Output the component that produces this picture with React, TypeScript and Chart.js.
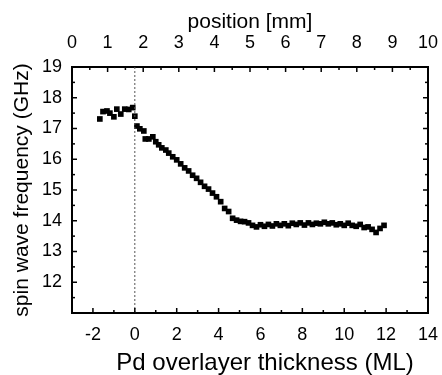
import React, { useEffect, useRef } from "react";
import { Chart, registerables } from "chart.js";

Chart.register(...registerables);

// Pd overlayer thickness (ML)
const thicknessML: number[] = [
  -1.67, -1.52, -1.33, -1.19, -1.0, -0.86, -0.67, -0.48, -0.29, -0.1,
  0.0, 0.1, 0.24, 0.43, 0.5, 0.67, 0.86, 1.0, 1.14, 1.29, 1.48, 1.62,
  1.81, 2.0, 2.19, 2.38, 2.57, 2.76, 2.95, 3.14, 3.33, 3.52, 3.71, 3.9,
  4.1, 4.29, 4.48, 4.67, 4.86, 5.05, 5.24, 5.43, 5.62, 5.81, 6.0, 6.19,
  6.38, 6.57, 6.76, 6.95, 7.14, 7.33, 7.52, 7.71, 7.9, 8.1, 8.29, 8.48,
  8.67, 8.86, 9.05, 9.24, 9.43, 9.62, 9.81, 10.0, 10.19, 10.38, 10.57,
  10.76, 10.95, 11.14, 11.33, 11.52, 11.71, 11.9,
];

// spin wave frequency (GHz)
const frequencyGHz: number[] = [
  17.31, 17.55, 17.57, 17.5, 17.38, 17.63, 17.47, 17.63, 17.62, 17.68,
  17.4, 17.08, 16.99, 16.92, 16.66, 16.66, 16.73, 16.57, 16.47, 16.37, 16.3, 16.2,
  16.08, 15.98, 15.85, 15.72, 15.62, 15.48, 15.38, 15.25, 15.12, 15.03, 14.9, 14.78,
  14.62, 14.4, 14.3, 14.08, 14.02, 13.98, 13.97, 13.93, 13.85, 13.8, 13.87, 13.82,
  13.88, 13.83, 13.9, 13.85, 13.9, 13.84, 13.92, 13.88, 13.93, 13.86, 13.93, 13.88,
  13.92, 13.9, 13.95, 13.9, 13.93, 13.87, 13.9, 13.85, 13.92, 13.85, 13.82,
  13.88, 13.78, 13.8, 13.72, 13.62, 13.75, 13.85,
];

// reference line at zero thickness
const zeroLineX: number[] = [0, 0];
const zeroLineY: number[] = [11, 19];

// axis ranges
const xRange: number[] = [-3, 14];
const yRange: number[] = [11, 19];
const posRange: number[] = [0, 10];

const xTitle = "Pd overlayer thickness (ML)";
const x2Title = "position [mm]";
const yTitle = "spin wave frequency (GHz)";

const FONT = "'Liberation Sans', Arial, Helvetica, sans-serif";

const inwardTicks = {
  id: "inwardTicks",
  afterDraw(chart: any) {
    const ctx = chart.ctx;
    const area = chart.chartArea;
    ctx.save();
    ctx.strokeStyle = "#000";
    ctx.lineWidth = 1.5;
    const major = 5;
    const minor = 3;
    for (const id of Object.keys(chart.scales)) {
      const s = chart.scales[id];
      for (const t of s.ticks) {
        const v = t.value;
        let isMajor: boolean;
        if (id === "x") isMajor = Math.abs(v % 2) < 1e-9;
        else isMajor = Math.abs(v - Math.round(v)) < 1e-9;
        const len = isMajor ? major : minor;
        const p = s.getPixelForValue(v);
        ctx.beginPath();
        if (s.position === "bottom") {
          ctx.moveTo(p, area.bottom);
          ctx.lineTo(p, area.bottom - len);
        } else if (s.position === "top") {
          ctx.moveTo(p, area.top);
          ctx.lineTo(p, area.top + len);
        } else if (s.position === "left") {
          ctx.moveTo(area.left, p);
          ctx.lineTo(area.left + len, p);
        } else {
          ctx.moveTo(area.right, p);
          ctx.lineTo(area.right - len, p);
        }
        ctx.stroke();
      }
    }
    // bottom axis title (sits slightly right of centre in the original)
    ctx.fillStyle = "#000";
    ctx.font = "24px " + FONT;
    ctx.textAlign = "center";
    ctx.textBaseline = "middle";
    ctx.fillText(xTitle, (area.left + area.right) / 2 + 15, area.bottom + 50);
    ctx.restore();
  },
};

export default function App() {
  const ref = useRef<HTMLCanvasElement | null>(null);

  useEffect(() => {
    if (!ref.current) return;
    Chart.defaults.font.family = FONT;
    Chart.defaults.color = "#000";
    const points = thicknessML.map((x, i) => ({ x, y: frequencyGHz[i] }));
    const zero = zeroLineX.map((x, i) => ({ x, y: zeroLineY[i] }));
    const border = { display: true, color: "#000", width: 2 };
    const grid = { display: false, drawTicks: false };
    const tickFont = { size: 18 };
    const noHPad = (s: any) => {
      s.paddingLeft = 0;
      s.paddingRight = 0;
    };
    const chart = new Chart(ref.current, {
      type: "scatter",
      data: {
        datasets: [
          {
            data: zero,
            showLine: true,
            borderColor: "#555",
            borderWidth: 1,
            borderDash: [2, 2],
            pointRadius: 0,
            xAxisID: "x",
            yAxisID: "y",
          },
          {
            data: points,
            showLine: false,
            pointStyle: "rect",
            pointRadius: 4,
            backgroundColor: "#000",
            borderColor: "#000",
            borderWidth: 0,
            xAxisID: "x",
            yAxisID: "y",
          },
        ],
      },
      options: {
        animation: false,
        responsive: false,
        devicePixelRatio: 1,
        layout: { padding: 0 },
        plugins: { legend: { display: false }, tooltip: { enabled: false } },
        scales: {
          x: {
            type: "linear",
            position: "bottom",
            min: xRange[0],
            max: xRange[1],
            border,
            grid,
            ticks: {
              stepSize: 1,
              padding: 11,
              autoSkip: false,
              maxRotation: 0,
              minRotation: 0,
              font: tickFont,
              color: "#000",
              callback: (v: any) => (Math.abs(v % 2) < 1e-9 ? String(v) : ""),
            },
            title: { display: false, text: xTitle },
            afterFit: (s: any) => {
              s.height = 62;
              noHPad(s);
            },
          },
          x2: {
            type: "linear",
            position: "top",
            min: posRange[0],
            max: posRange[1],
            border,
            grid,
            ticks: {
              stepSize: 0.5,
              padding: 13,
              autoSkip: false,
              maxRotation: 0,
              minRotation: 0,
              font: tickFont,
              color: "#000",
              callback: (v: any) => (Number.isInteger(v) ? String(v) : ""),
            },
            title: {
              display: true,
              text: x2Title,
              font: { size: 21, lineHeight: 1 },
              color: "#000",
              padding: { top: 11.5, bottom: 0 },
            },
            afterFit: (s: any) => {
              s.height = 67;
              noHPad(s);
            },
          },
          y: {
            type: "linear",
            position: "left",
            min: yRange[0],
            max: yRange[1],
            border,
            grid,
            ticks: {
              stepSize: 0.5,
              padding: 10,
              autoSkip: false,
              font: tickFont,
              color: "#000",
              callback: (v: any) => (Number.isInteger(v) && v >= 12 ? String(v) : ""),
            },
            title: {
              display: true,
              text: yTitle,
              font: { size: 21, lineHeight: 1 },
              color: "#000",
              padding: { top: 11.5, bottom: 0 },
            },
            afterFit: (s: any) => {
              s.width = 72;
            },
          },
          y2: {
            type: "linear",
            position: "right",
            min: yRange[0],
            max: yRange[1],
            border,
            grid,
            ticks: {
              stepSize: 0.5,
              display: false,
            },
            afterFit: (s: any) => {
              s.width = 14;
            },
          },
        },
      },
      plugins: [inwardTicks],
    } as any);
    return () => chart.destroy();
  }, []);

  return (
    <div style={{ position: "absolute", left: 0, top: 0, width: 442, height: 375, background: "#fff" }}>
      <canvas ref={ref} width={442} height={375} style={{ width: 442, height: 375 }} />
    </div>
  );
}
